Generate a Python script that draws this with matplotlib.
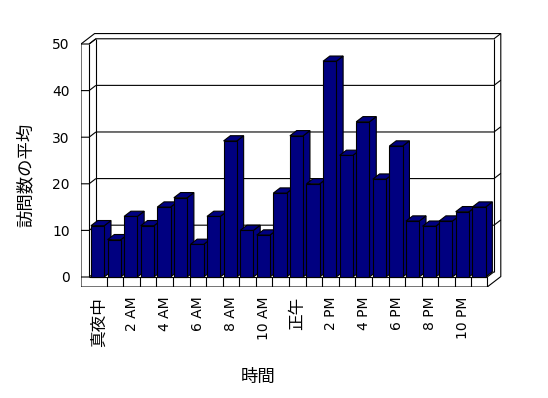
import matplotlib
matplotlib.use("Agg")
import matplotlib.pyplot as plt
import numpy as np

# average visits per hour
hours = np.arange(24)
visits = [11, 8, 13, 11, 15, 17, 7, 13, 29.2, 10, 9, 18,
          30.3, 20, 46.3, 26.1, 33.3, 21, 28.1, 12, 10.9, 12, 14, 15]
tick_pos = list(range(0, 24, 2))
tick_labels = ["真夜中", "2 AM", "4 AM", "6 AM", "8 AM", "10 AM",
               "正午", "2 PM", "4 PM", "6 PM", "8 PM", "10 PM"]
y_ticks = [0, 10, 20, 30, 40, 50]

plt.rcParams['font.family'] = ['DejaVu Sans', 'Noto Sans CJK JP']

W, H = 548, 398
fig = plt.figure(figsize=(W / 100, H / 100), dpi=100)
# pixel box of the 3d frame
left_px, right_px, bot_px, top_px = 81, 502, 287, 32
ax = fig.add_axes([left_px / W, (H - bot_px) / H,
                   (right_px - left_px) / W, (bot_px - top_px) / H])
x0_px, xs = 98.4, 16.58   # pixel of category 0, px per category
y0_px, ys = 277, 4.66     # pixel of value 0, px per unit
ax.set_xlim((left_px - x0_px) / xs, (right_px - x0_px) / xs)
ax.set_ylim((y0_px - bot_px) / ys, (y0_px - top_px) / ys)

DX, DY = 0.41, 1.12       # depth offset
L_OUT, L_IN, R = -1.05, -0.56, 23.45
TOP = y_ticks[-1]
FL = -2.15
lw = 0.8
line = dict(color='black', linewidth=lw, zorder=2, solid_capstyle='butt')

# walls and floor
ax.fill([L_OUT, R, R + 2 * DX, R + 2 * DX, L_OUT + 2 * DX, L_OUT],
        [FL, FL, FL + 2 * DY, TOP + 2 * DY, TOP + 2 * DY, TOP],
        facecolor='white', edgecolor='black', linewidth=lw, zorder=1)
ax.plot([L_IN, L_IN + DX, R + DX, R + 2 * DX], [TOP, TOP + DY, TOP + DY, TOP + 2 * DY], **line)
ax.plot([R + DX, R + DX], [TOP + DY, DY], **line)
ax.plot([L_IN + DX, L_IN + DX], [TOP + DY, DY], **line)
ax.plot([L_IN, L_IN], [0, TOP], **line)
ax.plot([L_IN, R, R], [0, 0, FL], **line)
ax.plot([R, R + DX], [0, DY], **line)
for v in y_ticks:
    ax.plot([L_OUT, L_IN, L_IN + DX], [v, v, v + DY], **line)
    if 0 < v < TOP:
        ax.plot([L_IN + DX, R + DX, R + 2 * DX], [v + DY, v + DY, v + 2 * DY], **line)
for k in range(23):
    ax.plot([k + 0.5, k + 0.5], [FL, 0], **line)

# bars
navy = '#000080'
bars = ax.bar(hours - 0.05, visits, width=0.8, color=navy,
              edgecolor='black', linewidth=lw)
for i, (p, v) in enumerate(zip(bars.patches, visits)):
    xl = p.get_x()
    xr = xl + p.get_width()
    p.set_zorder(11 + 2 * i)
    ax.fill([xr, xr + DX, xr + DX, xr], [0, DY, v + DY, v],
            facecolor=navy, edgecolor='black', linewidth=lw, zorder=10 + 2 * i)
    ax.fill([xl, xr, xr + DX, xl + DX], [v, v, v + DY, v + DY],
            facecolor=navy, edgecolor='black', linewidth=lw, zorder=10 + 2 * i)

ax.set_xticks(tick_pos, tick_labels, rotation=90)
ax.set_yticks(y_ticks)
ax.tick_params(axis='x', length=0, pad=7, labelsize=10)
ax.tick_params(axis='y', length=0, pad=8, labelsize=10)
for t in ax.get_xticklabels():
    if any(ord(c) > 127 for c in t.get_text()):
        t.set_fontsize(12)
for s in ax.spines.values():
    s.set_visible(False)
ax.patch.set_visible(False)

ax.set_xlabel("時間", fontsize=12.5)
ax.xaxis.set_label_coords((258 - left_px) / (right_px - left_px),
                          (bot_px - 377) / (bot_px - top_px))
ax.xaxis.label.set_va('center')
ax.set_ylabel("訪問数の平均", fontsize=12.5)
ax.yaxis.set_label_coords((26 - left_px) / (right_px - left_px),
                          (bot_px - 175) / (bot_px - top_px))
ax.yaxis.label.set_va('center')

fig.savefig("out.png", dpi=100)
